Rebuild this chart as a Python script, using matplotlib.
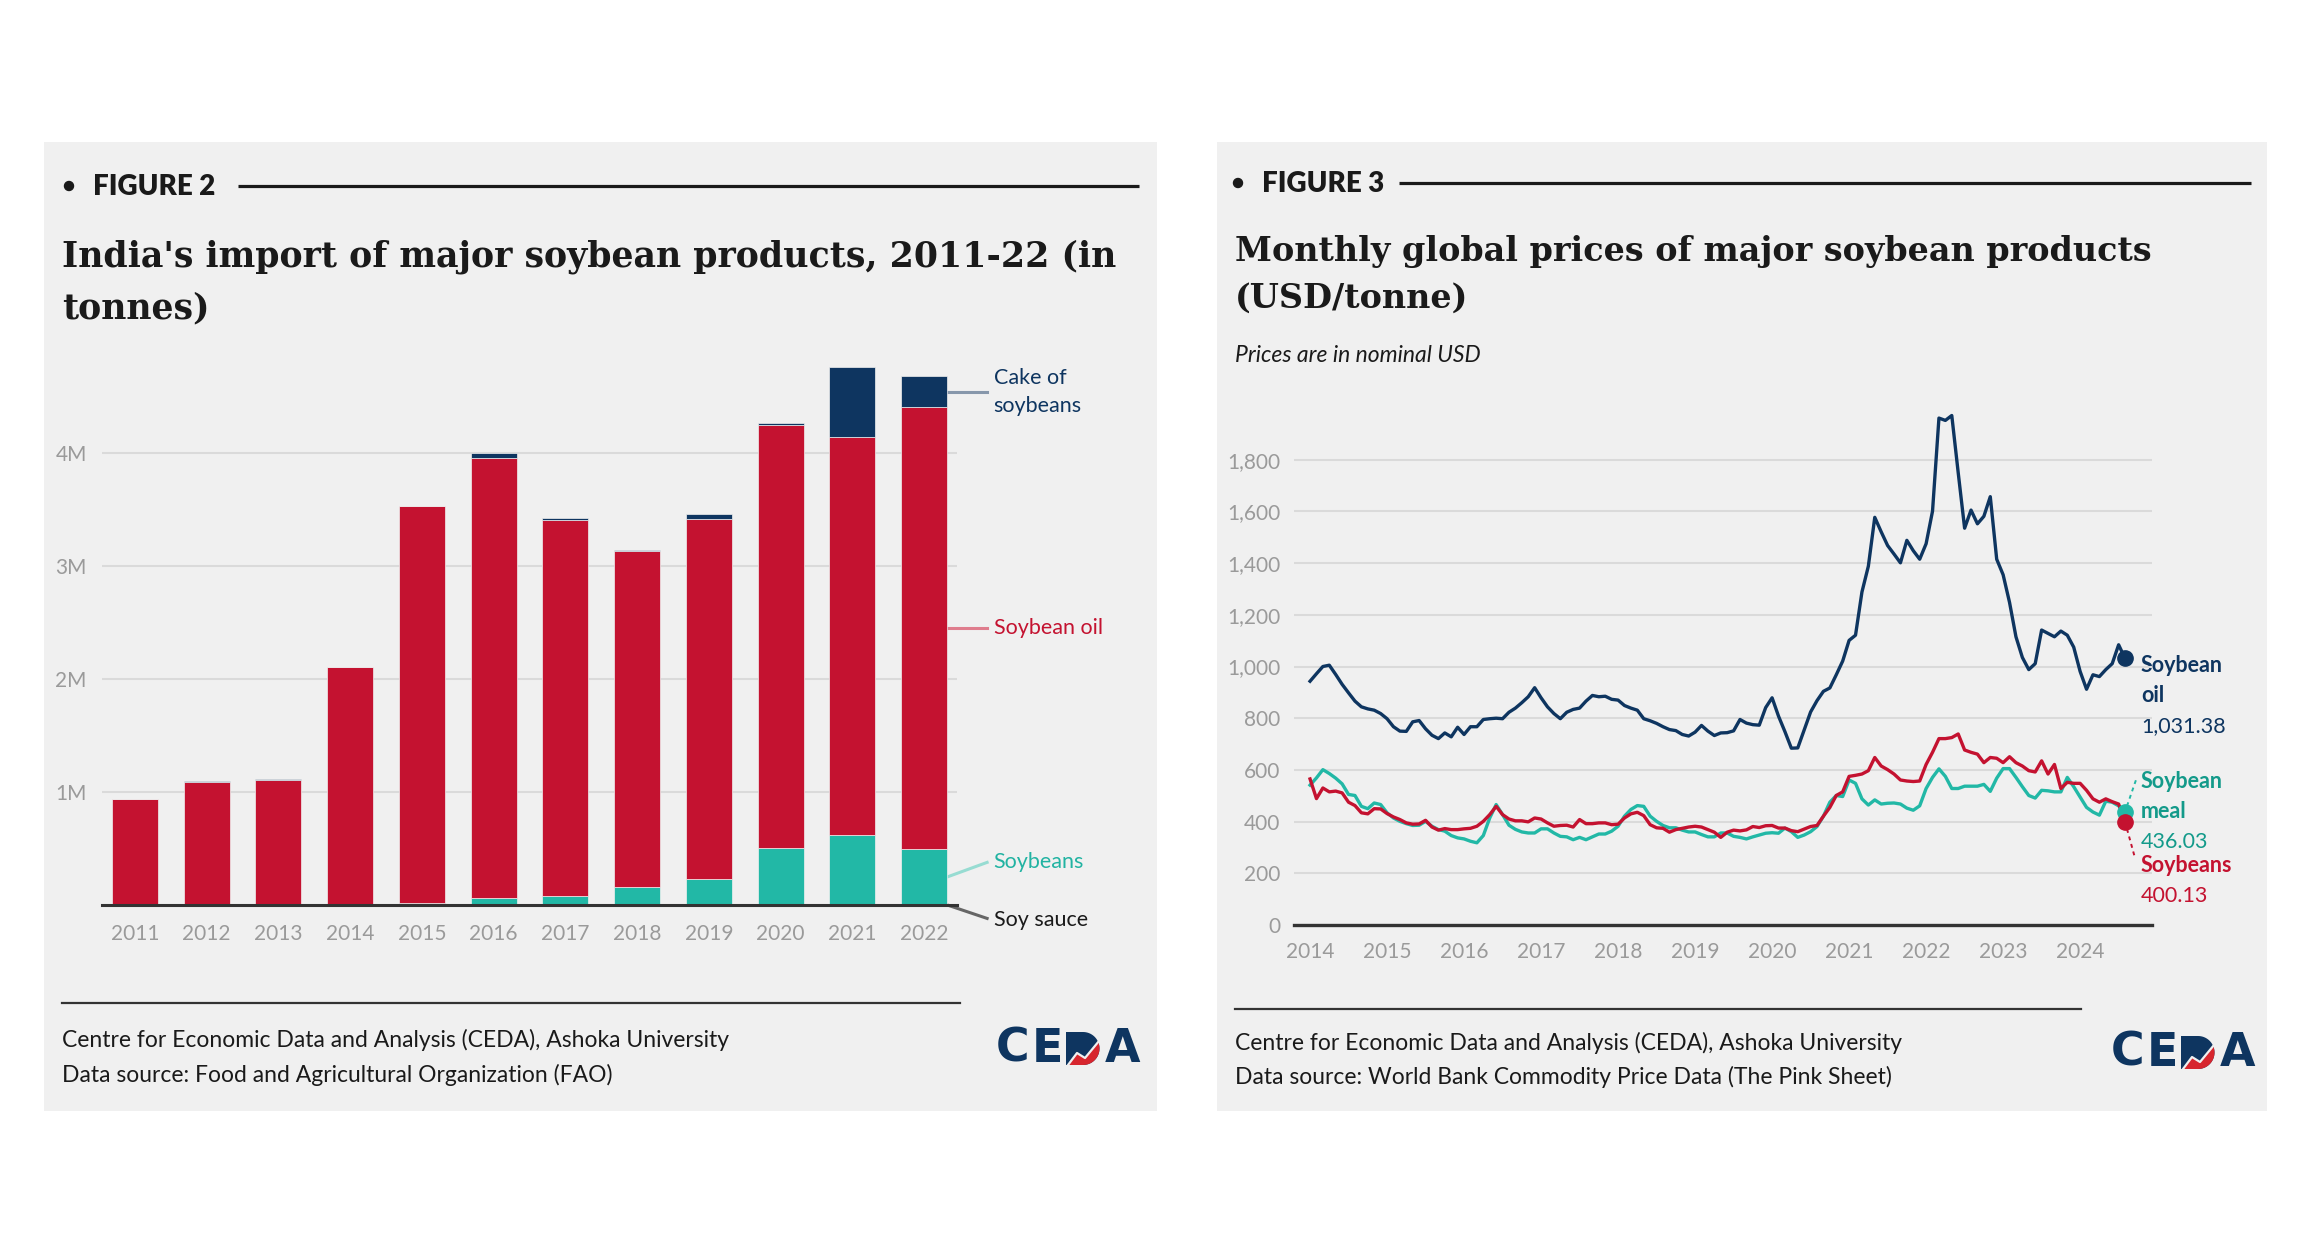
import numpy as np
import pandas as pd
from matplotlib import pyplot as plt
from matplotlib.patches import Rectangle, Circle, Polygon
from matplotlib.ticker import FuncFormatter

# ---- figure 2 data (tonnes) ----
years = ['2011', '2012', '2013', '2014', '2015', '2016', '2017', '2018', '2019', '2020', '2021', '2022']
soy_sauce = [600, 700, 800, 900, 1100, 1200, 1300, 1500, 1700, 1600, 2000, 2200]
soybeans = [1000, 1000, 1000, 2000, 16000, 62000, 78000, 160000, 225000, 507000, 614000, 490000]
soybean_oil = [938000, 1091000, 1108000, 2105000, 3510000, 3892000, 3332000, 2970000, 3190000, 3738000, 3523000, 3915000]
cake_of_soybeans = [1000, 1000, 3000, 2000, 4000, 43000, 10000, 10000, 42000, 23000, 618000, 271000]

# ---- figure 3 data (USD/tonne, monthly from Jan 2014) ----
months = pd.date_range('2014-01-01', periods=128, freq='MS')
oil_price = [943, 972, 1000, 1005, 969, 931, 898, 866, 844, 836, 831, 818,
             798, 767, 750, 749, 786, 791, 759, 734, 721, 743, 728, 765,
             737, 767, 767, 795, 798, 800, 798, 823, 839, 860, 883, 918,
             879, 844, 818, 798, 823, 834, 839, 866, 888, 883, 885, 873,
             870, 849, 839, 831, 798, 790, 780, 767, 756, 752, 737, 731,
             746, 772, 750, 733, 743, 744, 751, 795, 781, 775, 773, 841,
             879, 808, 748, 684, 685, 755, 824, 868, 904, 917, 968, 1021,
             1101, 1121, 1288, 1388, 1577, 1521, 1468, 1435, 1401, 1488, 1448, 1415,
             1475, 1601, 1961, 1952, 1971, 1750, 1535, 1605, 1552, 1581, 1657, 1415,
             1355, 1248, 1115, 1035, 988, 1011, 1141, 1128, 1115, 1137, 1121, 1075,
             981, 912, 968, 961, 988, 1011, 1084, 1031.38]
meal_price = [541, 569, 601, 586, 568, 546, 505, 501, 459, 450, 472, 466,
              434, 414, 401, 392, 385, 386, 401, 382, 369, 363, 346, 337,
              333, 324, 318, 346, 414, 466, 427, 386, 370, 360, 356, 356,
              372, 372, 356, 343, 341, 330, 339, 330, 341, 352, 352, 363,
              382, 421, 447, 462, 459, 421, 401, 385, 376, 376, 367, 360,
              360, 350, 341, 341, 356, 356, 343, 339, 333, 341, 348, 355,
              357, 355, 375, 361, 339, 348, 361, 381, 421, 475, 501, 497,
              561, 548, 488, 464, 484, 468, 471, 472, 468, 452, 444, 461,
              528, 571, 604, 575, 528, 528, 537, 537, 537, 544, 517, 568,
              605, 605, 571, 535, 501, 491, 521, 519, 515, 515, 571, 535,
              495, 455, 437, 425, 479, 475, 461, 436.03]
beans_price = [565, 489, 530, 515, 518, 511, 475, 462, 434, 430, 450, 449,
               431, 418, 408, 395, 390, 391, 405, 379, 367, 373, 369, 369,
               372, 374, 382, 401, 427, 459, 427, 410, 403, 403, 399, 414,
               410, 395, 382, 385, 386, 379, 408, 392, 392, 395, 395, 388,
               390, 414, 430, 436, 423, 388, 376, 374, 359, 369, 374, 379,
               382, 379, 369, 359, 339, 359, 367, 364, 368, 381, 377, 384,
               385, 375, 375, 365, 361, 371, 381, 385, 421, 455, 501, 515,
               575, 579, 584, 597, 648, 615, 601, 584, 561, 557, 555, 557,
               621, 668, 721, 721, 725, 739, 677, 668, 661, 628, 648, 645,
               628, 651, 628, 615, 597, 592, 635, 584, 621, 528, 552, 548,
               548, 521, 488, 475, 488, 477, 468, 400.13]

NAVY = '#0e3560'
RED = '#c41230'
TEAL = '#22b8a6'
PANEL = '#f0f0f0'
GRID = '#dadada'
TICK = '#9a9a9a'
INK = '#1a1a1a'

plt.rcParams['font.family'] = ['Lato', 'DejaVu Sans']

W, H = 2316, 1254
fig = plt.figure(figsize=(W / 100, H / 100), dpi=100)
fig.patch.set_facecolor('white')

# pixel-space overlay for panels and text
bg = fig.add_axes([0, 0, 1, 1], zorder=0)
bg.set_xlim(0, W)
bg.set_ylim(H, 0)
bg.axis('off')


def px_axes(x0, y0, x1, y1):
    return fig.add_axes([x0 / W, 1 - y1 / H, (x1 - x0) / W, (y1 - y0) / H], zorder=2)


def draw_logo(x0, y0):
    h = 35
    for dx, ch in [(-1, 'C'), (35, 'E')]:
        bg.text(x0 + dx, y0 + h / 2 + 1, ch, fontsize=33, fontweight='bold', color=NAVY,
                ha='left', va='center', family='DejaVu Sans')
    bg.text(x0 + 143, y0 + h / 2 + 1, 'A', fontsize=33, fontweight='bold', color=NAVY,
            ha='right', va='center', family='DejaVu Sans')
    d0 = 69
    cx, cy, r = x0 + d0 + 17, y0 + h / 2, h / 2 - 1
    t = np.radians(np.linspace(-90, 90, 40))
    outline = [(x0 + d0, y0 + 1)] + list(zip(cx + r * np.cos(t), cy + r * np.sin(t))) + [(x0 + d0, y0 + h - 1)]
    bg.add_patch(Polygon(outline, closed=True, color=NAVY, lw=0))
    t0 = np.arcsin((11 - h / 2) / r)
    t2 = np.linspace(t0, np.pi / 2, 30)
    zig = [(x0 + d0 + 2, y0 + h - 1), (x0 + d0 + 11, y0 + 22), (x0 + d0 + 19, y0 + 27),
           (cx + r * np.cos(t0), y0 + 11)]
    red = zig + list(zip(cx + r * np.cos(t2), cy + r * np.sin(t2)))
    bg.add_patch(Polygon(red, closed=True, color='#d7262e', lw=0))
    bg.plot([p[0] for p in zig], [p[1] for p in zig], color=PANEL, lw=1.6)


def header(y_fig, bullet_x, line_x0, line_x1, label):
    bg.add_patch(Circle((bullet_x, y_fig), 4.5, color=INK))
    bg.text(bullet_x + 24, y_fig + 1, label, fontsize=20, fontweight='heavy', color=INK, va='center', ha='left')
    bg.plot([line_x0, line_x1], [y_fig, y_fig], color=INK, lw=2.3, solid_capstyle='butt')


# panels
bg.add_patch(Rectangle((44, 142), 1113, 969, color=PANEL, lw=0))
bg.add_patch(Rectangle((1217, 142), 1050, 969, color=PANEL, lw=0))

# ---- left panel text ----
header(186, 69, 238, 1139, 'FIGURE 2')
bg.text(62, 257, "India's import of major soybean products, 2011-22 (in", family='DejaVu Serif',
        fontweight='bold', fontsize=25, color=INK, va='center', ha='left')
bg.text(62, 308, 'tonnes)', family='DejaVu Serif', fontweight='bold', fontsize=25, color=INK,
        va='center', ha='left')
bg.plot([62, 960], [1003, 1003], color='#333333', lw=1.6)
bg.text(62, 1040, 'Centre for Economic Data and Analysis (CEDA), Ashoka University', fontsize=16.5, color=INK, va='center')
bg.text(62, 1075, 'Data source: Food and Agricultural Organization (FAO)', fontsize=16.5, color=INK, va='center')
draw_logo(997, 1031)

# ---- right panel text ----
header(183, 1238, 1399, 2251, 'FIGURE 3')
bg.text(1235, 251, 'Monthly global prices of major soybean products', family='DejaVu Serif',
        fontweight='bold', fontsize=24, color=INK, va='center', ha='left')
bg.text(1235, 298, '(USD/tonne)', family='DejaVu Serif', fontweight='bold', fontsize=24, color=INK,
        va='center', ha='left')
bg.text(1235, 355, 'Prices are in nominal USD', fontsize=16.5, style='italic', color=INK, va='center')
bg.plot([1235, 2081], [1009, 1009], color='#333333', lw=1.6)
bg.text(1235, 1043, 'Centre for Economic Data and Analysis (CEDA), Ashoka University', fontsize=16.5, color=INK, va='center')
bg.text(1235, 1077, 'Data source: World Bank Commodity Price Data (The Pink Sheet)', fontsize=16.5, color=INK, va='center')
draw_logo(2112, 1035)

# ---- figure 2: stacked bars ----
ax = px_axes(102, 340, 957, 905)
ax.set_facecolor('none')
x = np.arange(len(years))
bw = 0.64
s0 = np.array(soy_sauce)
s1 = s0 + np.array(soybeans)
s2 = s1 + np.array(soybean_oil)
ax.bar(x, soy_sauce, bw, color='#222222', zorder=3)
ax.bar(x, soybeans, bw, bottom=s0, color=TEAL, edgecolor=PANEL, lw=0.5, zorder=3)
ax.bar(x, soybean_oil, bw, bottom=s1, color=RED, edgecolor=PANEL, lw=0.5, zorder=3)
ax.bar(x, cake_of_soybeans, bw, bottom=s2, color=NAVY, edgecolor=PANEL, lw=0.5, zorder=3)
ax.set_xlim(-0.46, 11.46)
ax.set_ylim(0, 5.0e6)
ax.set_yticks([1e6, 2e6, 3e6, 4e6])
ax.yaxis.set_major_formatter(FuncFormatter(lambda v, p: '%dM' % round(v / 1e6)))
ax.set_xticks(x)
ax.set_xticklabels(years)
ax.grid(axis='y', color=GRID, lw=1.5, zorder=0)
ax.tick_params(length=0, labelsize=15, labelcolor=TICK)
ax.tick_params(axis='y', pad=11)
ax.tick_params(axis='x', pad=14)
for sp in ['top', 'right', 'left']:
    ax.spines[sp].set_visible(False)
ax.spines['bottom'].set_color('#333333')
ax.spines['bottom'].set_linewidth(2.2)
ax.spines['bottom'].set_zorder(4)

# connectors to the last bar
last = len(years) - 1
xe = last + bw / 2
xl = xe + 0.56
mids = {
    'cake': s2[last] + cake_of_soybeans[last] / 2,
    'oil': s1[last] + soybean_oil[last] / 2,
    'beans': s0[last] + soybeans[last] / 2,
    'sauce': soy_sauce[last] / 2,
}
ax.plot([xe, xl], [mids['cake'], mids['cake']], color='#8797ab', lw=2.2, clip_on=False)
ax.plot([xe, xl], [mids['oil'], mids['oil']], color='#df7d8d', lw=2.2, clip_on=False)
ax.plot([xe, xl], [mids['beans'], mids['beans'] + 0.13e6], color='#97dcd2', lw=2.2, clip_on=False)
ax.plot([xe, xl], [mids['sauce'], mids['sauce'] - 0.12e6], color='#666666', lw=2.2, clip_on=False)
ax.text(xl + 0.09, mids['cake'], 'Cake of\nsoybeans', color=NAVY, fontsize=15.5, va='center',
        linespacing=1.5, clip_on=False)
ax.text(xl + 0.09, mids['oil'], 'Soybean oil', color=RED, fontsize=15.5, va='center', clip_on=False)
ax.text(xl + 0.09, mids['beans'] + 0.13e6, 'Soybeans', color='#21b3a2', fontsize=15.5, va='center', clip_on=False)
ax.text(xl + 0.09, mids['sauce'] - 0.13e6, 'Soy sauce', color=INK, fontsize=15.5, va='center', clip_on=False)

# ---- figure 3: monthly prices ----
ax2 = px_axes(1294, 408, 2152, 925)
ax2.set_facecolor('none')
mi = np.arange(len(months))
ax2.plot(mi, meal_price, color=TEAL, lw=2.4, zorder=3, solid_joinstyle='round')
ax2.plot(mi, beans_price, color=RED, lw=2.4, zorder=4, solid_joinstyle='round')
ax2.plot(mi, oil_price, color=NAVY, lw=2.4, zorder=5, solid_joinstyle='round')
ax2.plot(mi[-1], oil_price[-1], 'o', color=NAVY, ms=11, zorder=6, clip_on=False)
ax2.plot(mi[-1], meal_price[-1], 'o', color=TEAL, ms=11, zorder=6, clip_on=False)
ax2.plot(mi[-1], beans_price[-1], 'o', color=RED, ms=11, zorder=7, clip_on=False)
ax2.set_xlim(-2.5, 131.2)
ax2.set_ylim(0, 2000)
ax2.set_yticks(np.arange(0, 1801, 200))
ax2.yaxis.set_major_formatter(FuncFormatter(lambda v, p: '{:,.0f}'.format(v)))
year_idx = [i for i, d in enumerate(months) if d.month == 1]
ax2.set_xticks(year_idx)
ax2.set_xticklabels([str(months[i].year) for i in year_idx])
ax2.grid(axis='y', color=GRID, lw=1.5, zorder=0)
ax2.tick_params(length=0, labelsize=15, labelcolor=TICK)
ax2.tick_params(axis='y', pad=10)
ax2.tick_params(axis='x', pad=12)
for sp in ['top', 'right', 'left']:
    ax2.spines[sp].set_visible(False)
ax2.spines['bottom'].set_color('#333333')
ax2.spines['bottom'].set_linewidth(2.4)

# end labels
bg.text(2141, 665, 'Soybean', color=NAVY, fontsize=15.5, fontweight='bold', va='center')
bg.text(2141, 695, 'oil', color=NAVY, fontsize=15.5, fontweight='bold', va='center')
bg.text(2141, 726, '{:,.2f}'.format(oil_price[-1]), color=NAVY, fontsize=15.5, va='center')
bg.text(2141, 781, 'Soybean', color='#139a8a', fontsize=15.5, fontweight='bold', va='center')
bg.text(2141, 811, 'meal', color='#139a8a', fontsize=15.5, fontweight='bold', va='center')
bg.text(2141, 842, '{:,.2f}'.format(meal_price[-1]), color='#139a8a', fontsize=15.5, va='center')
bg.text(2141, 866, 'Soybeans', color=RED, fontsize=15.5, fontweight='bold', va='center')
bg.text(2141, 896, '{:,.2f}'.format(beans_price[-1]), color=RED, fontsize=15.5, va='center')
bg.plot([2127, 2137], [806, 777], color=TEAL, lw=1.4, ls=(0, (2, 2)))
bg.plot([2127, 2135], [829, 858], color=RED, lw=1.4, ls=(0, (2, 2)))

fig.savefig('out.png', dpi=100, facecolor='white')
